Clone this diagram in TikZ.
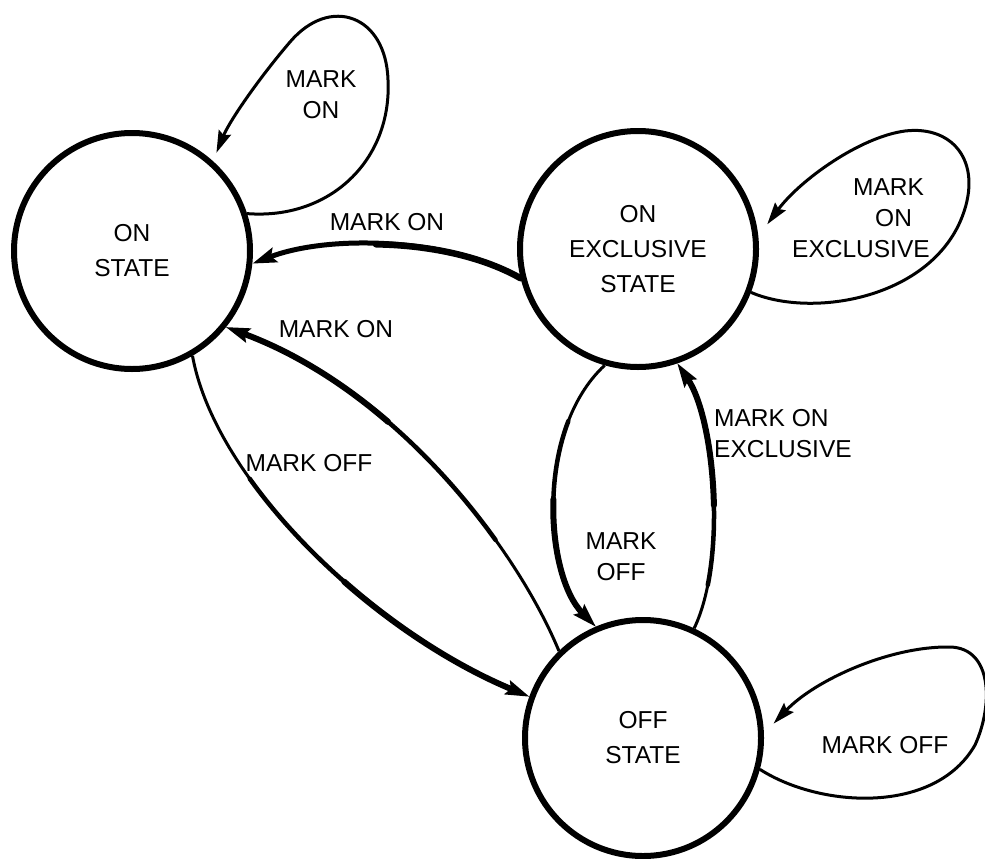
\documentclass[tikz,border=0pt]{standalone}
\usepackage{fontspec}
\setmainfont{Liberation Sans}
\usetikzlibrary{arrows.meta}
\newcommand\lblfont{\fontsize{24.5}{31}\selectfont}
\newcommand\stfont{\fontsize{24.5}{35}\selectfont}
\newcommand\taperedge[6]{%
  \draw[edgebase] #1 .. controls #2 and #3 .. #4;
  \draw[edgeover, line width=4.5pt, dash pattern=on #5 off 3000pt] #1 .. controls #2 and #3 .. #4;
  \draw[edgeover, line width=6pt, dash pattern=on #6 off 3000pt] #1 .. controls #2 and #3 .. #4;
}
\begin{document}
\begin{tikzpicture}[x=1pt,y=-1pt,
  state/.style={circle, draw, line width=6pt, minimum size=236pt, inner sep=0pt, align=center, font=\stfont},
  lbl/.style={align=center, inner sep=0pt, font=\lblfont},
  loopline/.style={line width=3pt, -{Stealth[length=22pt,width=13pt,inset=3pt]}},
  edgebase/.style={line width=3pt, {Stealth[length=24pt,width=15pt,inset=4pt]}-},
  edgeover/.style={shorten <=19pt, line cap=round}]
\useasboundingbox[fill=white] (0,0) rectangle (985,859);

% states
\node[state] (on) at (132,251) {ON\\STATE};
\node[state] (exc) at (638,249) {ON\\EXCLUSIVE\\STATE};
\node[state] (off) at (643,738) {OFF\\STATE};

% self loops
\draw[loopline, shorten >=9pt] (on.18) .. controls (330,220) and (392,160) .. (388,80)
  .. controls (386,15) and (330,-5) .. (290,42)
  .. controls (260,77) and (230,120) .. (on.48);
\draw[loopline, shorten >=15pt] (exc.-21) .. controls (810,318) and (925,300) .. (960,222)
  .. controls (985,165) and (955,125) .. (905,131)
  .. controls (860,137) and (800,180) .. (exc.6);
\draw[loopline, shorten >=14pt] (off.-15) .. controls (820,808) and (935,815) .. (975,745)
  .. controls (993,706) and (993,648) .. (950,647)
  .. controls (890,646) and (815,680) .. (off.2);

% edges (tapered, thick toward the arrow head)
\draw[line width=5pt, -{Stealth[length=24pt,width=15pt,inset=4pt]}]
  (exc.-166) .. controls (450,238) and (330,234) .. (on.-6);
\draw[line width=6.5pt, line cap=round, dash pattern=on 150pt off 3000pt]
  (exc.-166) .. controls (450,238) and (330,234) .. (on.-6);
\taperedge{(on.-39)}{(395,390)}{(515,545)}{(off.134)}{330pt}{170pt}
\taperedge{(off.160)}{(370,630)}{(215,480)}{(on.-60)}{340pt}{200pt}
\taperedge{(off.113)}{(545,575)}{(535,430)}{(exc.-106)}{200pt}{120pt}
\taperedge{(exc.-71)}{(715,420)}{(727,560)}{(off.65)}{210pt}{130pt}

% labels
\node[lbl] (l1) at (321,95) {MARK\\ON};
\node[lbl] (l2) at (387,222) {MARK ON};
\node[lbl] (l3) at (336,329) {MARK ON};
\node[lbl] (l4) at (309,463) {MARK OFF};
\node[lbl] (l5) at (621,557) {MARK\\OFF};
\node[lbl, align=left, anchor=west] (l6) at (714,434) {MARK ON\\EXCLUSIVE};
\node[lbl, align=left, anchor=west] (l7) at (792,218) {\hspace*{61pt}MARK\\\hspace*{83pt}ON\\EXCLUSIVE};
\node[lbl] (l8) at (885,745) {MARK OFF};
\end{tikzpicture}
\end{document}
